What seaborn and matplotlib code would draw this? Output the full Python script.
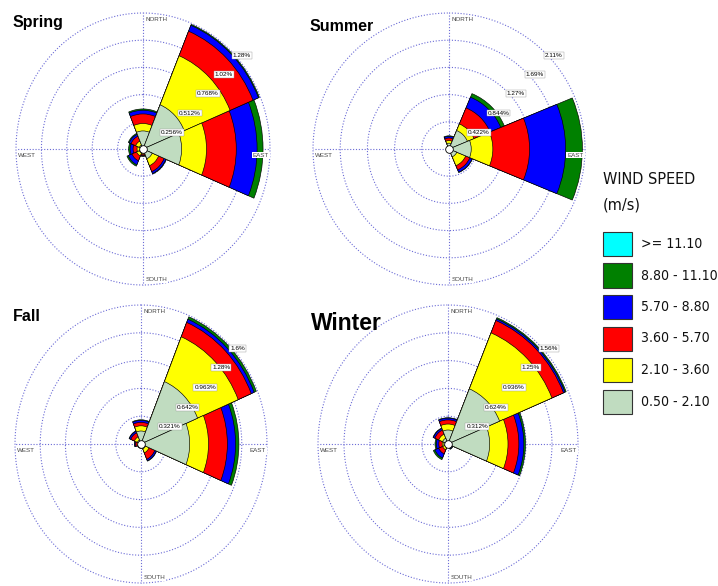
import numpy as np
import pandas as pd
import matplotlib
matplotlib.use("Agg")
import matplotlib.pyplot as plt
from matplotlib.patches import Rectangle
from matplotlib import font_manager as fm
import seaborn as sns

sns.set_theme(style="white")
plt.rcParams["font.family"] = ["Liberation Sans", "DejaVu Sans"]

# Compass sectors (clockwise from north) and wind-speed classes
directions = ["N", "NE", "E", "SE", "S", "SW", "W", "NW"]
direction_deg = [0, 45, 90, 135, 180, 225, 270, 315]
speed_bins = ["0.50 - 2.10", "2.10 - 3.60", "3.60 - 5.70", "5.70 - 8.80", "8.80 - 11.10", ">= 11.10"]
bin_colors = ["#C0DCC0", "#FFFF00", "#FF0000", "#0000FF", "#008000", "#00FFFF"]

# Frequency (%) per sector, ordered N, NE, E, SE, S, SW, W, NW
spring_050_210 = [0.17, 0.45, 0.39, 0.10, 0.04, 0.04, 0.03, 0.04]
spring_210_360 = [0.07, 0.50, 0.25, 0.07, 0.01, 0.03, 0.03, 0.04]
spring_360_570 = [0.09, 0.25, 0.30, 0.06, 0.01, 0.05, 0.04, 0.05]
spring_570_880 = [0.035, 0.06, 0.21, 0.02, 0.005, 0.04, 0.03, 0.02]
spring_880_1110 = [0.012, 0.01, 0.06, 0.005, 0.005, 0.015, 0.015, 0.01]
spring_ge_1110 = [0, 0, 0, 0, 0, 0, 0, 0]

summer_050_210 = [0.09, 0.31, 0.345, 0.13, 0.02, 0.01, 0.01, 0.02]
summer_210_360 = [0.04, 0.11, 0.335, 0.15, 0.01, 0.005, 0.005, 0.01]
summer_360_570 = [0.04, 0.27, 0.57, 0.07, 0.005, 0, 0, 0.005]
summer_570_880 = [0.025, 0.18, 0.56, 0.04, 0, 0, 0, 0]
summer_880_1110 = [0.01, 0.06, 0.26, 0.005, 0, 0, 0, 0]
summer_ge_1110 = [0, 0, 0, 0, 0, 0, 0, 0]

fall_050_210 = [0.15, 0.78, 0.62, 0.06, 0.02, 0.02, 0.03, 0.05]
fall_210_360 = [0.06, 0.56, 0.24, 0.05, 0.01, 0.01, 0.02, 0.04]
fall_360_570 = [0.04, 0.18, 0.24, 0.08, 0.01, 0.01, 0.02, 0.05]
fall_570_880 = [0.023, 0.04, 0.105, 0.02, 0.005, 0.005, 0.01, 0.02]
fall_880_1110 = [0.007, 0.03, 0.042, 0.005, 0.005, 0.005, 0.005, 0.005]
fall_ge_1110 = [0, 0, 0, 0, 0, 0, 0, 0]

winter_050_210 = [0.157, 0.67, 0.50, 0.02, 0.02, 0.04, 0.05, 0.07]
winter_210_360 = [0.067, 0.68, 0.22, 0.01, 0.005, 0.03, 0.02, 0.05]
winter_360_570 = [0.046, 0.15, 0.13, 0.02, 0.005, 0.05, 0.04, 0.05]
winter_570_880 = [0.02, 0.02, 0.06, 0.01, 0.005, 0.05, 0.03, 0.02]
winter_880_1110 = [0.005, 0.015, 0.02, 0.005, 0.005, 0.02, 0.016, 0.005]
winter_ge_1110 = [0, 0, 0, 0, 0, 0, 0, 0]

# Radial ring spacing (%) and ring labels
ring_values = {
    "Spring": [0.256, 0.512, 0.768, 1.024, 1.28],
    "Summer": [0.422, 0.844, 1.266, 1.688, 2.11],
    "Fall": [0.321, 0.642, 0.963, 1.284, 1.605],
    "Winter": [0.312, 0.624, 0.936, 1.248, 1.56],
}
ring_labels = {
    "Spring": ["0.256%", "0.512%", "0.768%", "1.02%", "1.28%"],
    "Summer": ["0.422%", "0.844%", "1.27%", "1.69%", "2.11%"],
    "Fall": ["0.321%", "0.642%", "0.963%", "1.28%", "1.6%"],
    "Winter": ["0.312%", "0.624%", "0.936%", "1.25%", "1.56%"],
}

seasons = {
    "Spring": [spring_050_210, spring_210_360, spring_360_570, spring_570_880, spring_880_1110, spring_ge_1110],
    "Summer": [summer_050_210, summer_210_360, summer_360_570, summer_570_880, summer_880_1110, summer_ge_1110],
    "Fall": [fall_050_210, fall_210_360, fall_360_570, fall_570_880, fall_880_1110, fall_ge_1110],
    "Winter": [winter_050_210, winter_210_360, winter_360_570, winter_570_880, winter_880_1110, winter_ge_1110],
}

W, H = 718, 586
fig = plt.figure(figsize=(W / 100, H / 100), dpi=100)
fig.patch.set_facecolor("white")


def px_rect(x0, y0, x1, y1):
    return [x0 / W, 1 - y1 / H, (x1 - x0) / W, (y1 - y0) / H]


panel_boxes = {
    "Spring": px_rect(16, 13, 270, 285),
    "Summer": px_rect(313, 13, 585, 285),
    "Fall": px_rect(15, 305, 267, 583),
    "Winter": px_rect(318, 305, 578, 583),
}

grid_color = "#6B6BD6"
label_kw = dict(fontsize=4.5, color="#444444",
                bbox=dict(boxstyle="square,pad=0.15", fc="white", ec="none"))


def draw_rose(ax, season):
    layers = seasons[season]
    theta = np.radians(direction_deg)
    rows = []
    for b, vals in zip(speed_bins, layers):
        for d, t, v in zip(directions, theta, vals):
            rows.append(dict(direction=d, theta=t, speed=b, freq=v))
    df = pd.DataFrame(rows)
    df["speed"] = pd.Categorical(df["speed"], categories=speed_bins, ordered=True)
    df = df.sort_values(["direction", "speed"])
    df["cum"] = df.groupby("direction", observed=True)["freq"].cumsum()

    # outer classes first, inner classes painted on top -> stacked look
    for b, col in reversed(list(zip(speed_bins, bin_colors))):
        sub = df[df["speed"] == b].sort_values("theta")
        if sub["freq"].sum() <= 0:
            continue
        sns.barplot(data=sub, x="theta", y="cum", native_scale=True, width=1.0,
                    color=col, saturation=1, edgecolor="black", linewidth=0.45,
                    errorbar=None, ax=ax)

    rings = ring_values[season]
    rmax = rings[-1]
    ax.set_theta_zero_location("N")
    ax.set_theta_direction(-1)
    ax.set_xlim(0, 2 * np.pi)
    ax.set_ylim(0, rmax)
    ax.grid(False)
    ax.set_xticks([])
    ax.set_yticks([])
    ax.set_xlabel("")
    ax.set_ylabel("")
    ax.spines["polar"].set_visible(False)
    ax.set_facecolor("none")

    circ = np.linspace(0, 2 * np.pi, 500)
    for r in rings:
        ax.plot(circ, np.full_like(circ, r), color=grid_color, lw=0.8,
                ls=(0, (1, 1.6)), zorder=0.5, clip_on=False)
    for a in np.radians([0, 90, 180, 270]):
        ax.plot([a, a], [0, rmax], color=grid_color, lw=0.8,
                ls=(0, (1, 1.6)), zorder=0.5, clip_on=False)

    # calm centre
    ax.plot([0], [0], "o", ms=5.5, mfc="white", mec="black", mew=0.6, zorder=6, clip_on=False)

    # ring labels along the 45 degree line
    for r, lab in zip(rings, ring_labels[season]):
        ax.text(np.radians(45), r, lab, ha="left", va="top", fontsize=4.6, color="black",
                bbox=dict(boxstyle="square,pad=0.15", fc="white", ec="#999999", lw=0.3),
                zorder=7)

    ax.set_aspect("auto")
    tr = ax.transAxes
    ax.text(0.51, 0.985, "NORTH", transform=tr, ha="left", va="top", zorder=7, **label_kw)
    ax.text(0.995, 0.487, "EAST", transform=tr, ha="right", va="top", zorder=7, **label_kw)
    ax.text(0.008, 0.487, "WEST", transform=tr, ha="left", va="top", zorder=7, **label_kw)
    ax.text(0.51, 0.012, "SOUTH", transform=tr, ha="left", va="bottom", zorder=7, **label_kw)


for season, box in panel_boxes.items():
    ax = fig.add_axes(box, projection="polar")
    draw_rose(ax, season)

# Panel titles
title_pos = {"Spring": (13, 26.7, 11.5), "Summer": (310, 30.7, 11.5),
             "Fall": (13, 320.7, 11.5), "Winter": (311, 330, 16.5)}
for name, (x, y, fs) in title_pos.items():
    fig.text(x / W, 1 - y / H, name, fontsize=fs, fontweight="bold",
             ha="left", va="baseline", color="black")


# Legend font: a narrow sans face if one is installed
def pick_narrow():
    entries = fm.fontManager.ttflist
    for f in entries:
        base = f.fname.split("/")[-1]
        if base == "LiberationSansNarrow-Regular.ttf":
            return f.fname, 14.0, 14.0, 645
    for f in entries:
        base = f.fname.split("/")[-1]
        if base == "DejaVuSansCondensed.ttf":
            return f.fname, 11.6, 10.1, 641
    return None, 11.0, 9.5, 641


narrow_file, head_fs, item_fs, item_x = pick_narrow()


def legend_font(size):
    if narrow_file:
        return fm.FontProperties(fname=narrow_file, size=size)
    return fm.FontProperties(family="Liberation Sans", size=size)


fig.text(603 / W, 1 - 179 / H, "WIND SPEED", fontproperties=legend_font(head_fs),
         ha="left", va="center", color="#111111")
fig.text(603 / W, 1 - 205 / H, "(m/s)", fontproperties=legend_font(head_fs),
         ha="left", va="center", color="#111111")
for i, (b, col) in enumerate(zip(reversed(speed_bins), reversed(bin_colors))):
    top = 232 + i * 31.5
    fig.add_artist(Rectangle((603 / W, 1 - (top + 24) / H), 29 / W, 24 / H,
                             transform=fig.transFigure, facecolor=col,
                             edgecolor="#333333", lw=0.8))
    fig.text(item_x / W, 1 - (top + 12) / H, b, fontproperties=legend_font(item_fs),
             ha="left", va="center", color="#111111")

fig.savefig("out.png", dpi=100, facecolor="white")
